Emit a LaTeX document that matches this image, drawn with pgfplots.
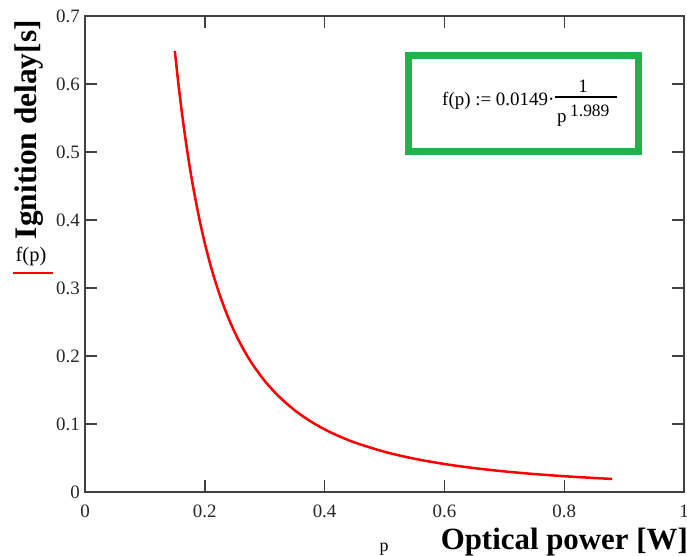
\documentclass[border=0pt]{standalone}
\usepackage{fontspec}
\setmainfont{Liberation Serif}
\usepackage{pgfplots}
\pgfplotsset{compat=1.18}
\definecolor{boxgreen}{RGB}{34,177,76}
\begin{document}
\begin{tikzpicture}
\begin{axis}[
  scale only axis,
  width=599bp, height=476bp,
  xmin=0, xmax=1, ymin=0, ymax=0.7,
  xtick={0,0.2,0.4,0.6,0.8,1},
  ytick={0,0.1,0.2,0.3,0.4,0.5,0.6,0.7},
  xticklabels={0,0.2,0.4,0.6,0.8,1},
  yticklabels={0,0.1,0.2,0.3,0.4,0.5,0.6,0.7},
  tick align=inside,
  major tick length=12bp,
  axis line style={black!75, line width=1.4bp},
  every tick/.style={black!75, line width=1.4bp},
  tick label style={font=\fontsize{19}{21}\selectfont, text=black!85},
  xticklabel style={anchor=north, inner sep=0pt, yshift=-13bp},
  yticklabel style={anchor=east, inner sep=0pt, xshift=-5bp},
  /pgf/number format/assume math mode=true,
  clip=false,
]
\addplot[red, line width=2.5bp, smooth] coordinates {
(0.15,0.6486)(0.155,0.6076)(0.16,0.5704)(0.165,0.5365)(0.17,0.5056)(0.175,0.4773)
(0.18,0.4513)(0.19,0.4053)(0.20,0.3660)(0.21,0.3321)(0.22,0.3028)(0.23,0.2772)
(0.24,0.2547)(0.25,0.2348)(0.26,0.2172)(0.27,0.2015)(0.28,0.1874)(0.30,0.1634)
(0.32,0.1437)(0.33,0.1352)(0.35,0.1202)(0.36,0.1137)(0.38,0.1021)(0.40,0.0922)
(0.42,0.08366)(0.45,0.0729)(0.50,0.05915)(0.55,0.04893)(0.60,0.04116)(0.65,0.0351)
(0.70,0.03029)(0.75,0.02641)(0.80,0.02322)(0.85,0.02059)(0.88,0.01921)
};
\end{axis}
% origin = axis south west (pixel 85,492); pixel (X,Y) -> (X-85, 492-Y)
\coordinate (O) at (current axis.south west);
\draw[boxgreen, line width=7bp] ([shift={(323.5bp,340.5bp)}]O) rectangle ([shift={(553.5bp,436.5bp)}]O);
\node[anchor=base west, inner sep=0pt, font=\fontsize{19}{21}\selectfont] at ([shift={(357bp,386bp)}]O) {f(p) := 0.0149\textperiodcentered};
\draw[black, line width=1.3bp] ([shift={(470bp,395bp)}]O) -- ([shift={(532bp,395bp)}]O);
\node[anchor=base, inner sep=0pt, font=\fontsize{19}{21}\selectfont] at ([shift={(498bp,399bp)}]O) {1};
\node[anchor=base west, inner sep=0pt, font=\fontsize{19}{21}\selectfont] at ([shift={(472bp,369bp)}]O) {p};
\node[anchor=base west, inner sep=0pt, font=\fontsize{17.5}{19}\selectfont] at ([shift={(485bp,375bp)}]O) {1.989};
\node[rotate=90, anchor=base east, inner sep=0pt, font=\fontsize{31.5}{33}\selectfont\bfseries] at ([shift={(-48bp,472bp)}]O) {Ignition delay[s]};
\node[anchor=base east, inner sep=0pt, font=\fontsize{31}{33}\selectfont\bfseries] at ([shift={(603bp,-57bp)}]O) {Optical power [W]};
\node[anchor=base, inner sep=0pt, font=\fontsize{18}{20}\selectfont] at ([shift={(299bp,-59bp)}]O) {p};
\node[anchor=base, inner sep=0pt, font=\fontsize{20.5}{22}\selectfont] at ([shift={(-54bp,230bp)}]O) {f(p)};
\draw[red, line width=2.2bp] ([shift={(-72bp,219bp)}]O) -- ([shift={(-32bp,219bp)}]O);
\pgfresetboundingbox
\path ([shift={(-85bp,-64bp)}]O) rectangle ([shift={(602bp,492bp)}]O);
\end{tikzpicture}
\end{document}
